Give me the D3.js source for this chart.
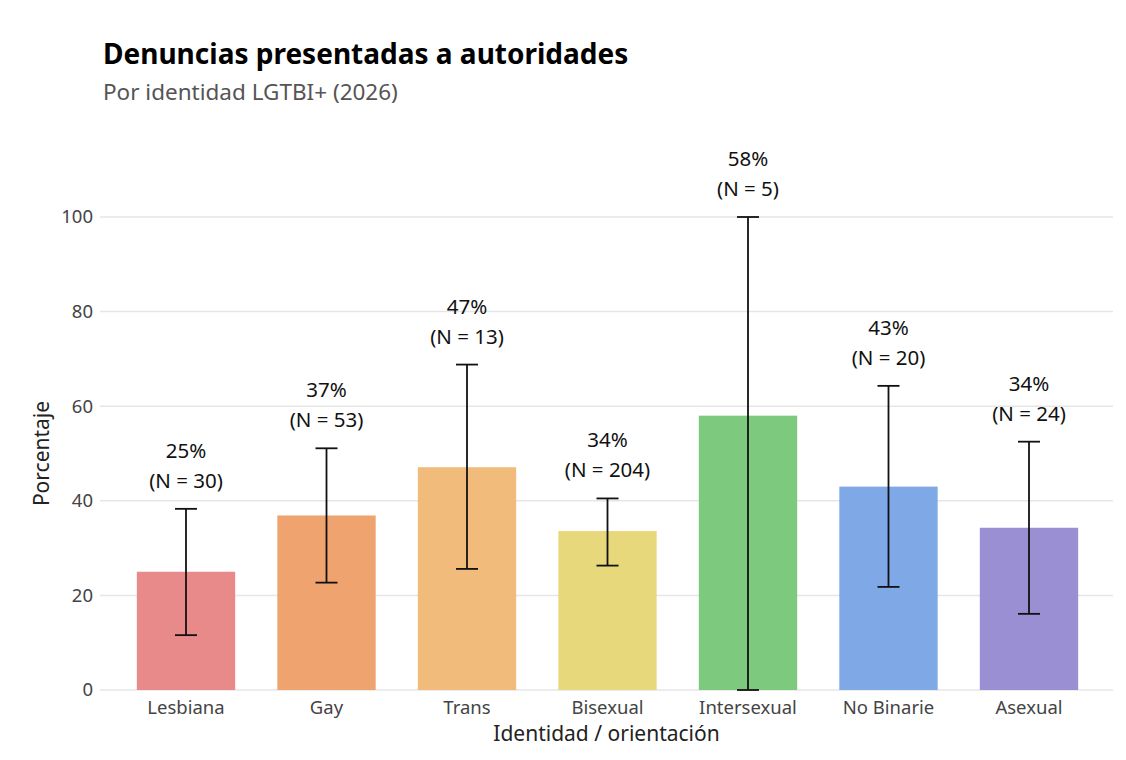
<!DOCTYPE html>
<html>
<head>
<meta charset="utf-8">
<script src="https://cdn.jsdelivr.net/npm/d3@7"></script>
<style>
  html, body { margin: 0; padding: 0; background: #fff; }
  svg { display: block; font-family: "Noto Sans", "Open Sans", sans-serif; }
</style>
</head>
<body>
<svg id="chart" width="1126" height="760"></svg>
<script>
// Report rates by identity, with 95% confidence intervals
const categories = ["Lesbiana", "Gay", "Trans", "Bisexual", "Intersexual", "No Binarie", "Asexual"];
const percents   = [25.0, 36.9, 47.1, 33.6, 58.0, 43.0, 34.3];
const sampleN    = [30, 53, 13, 204, 5, 20, 24];
const ciLow      = [11.6, 22.7, 25.6, 26.3, 0, 21.8, 16.1];
const ciHigh     = [38.3, 51.1, 68.8, 40.5, 100, 64.3, 52.5];
const barColors  = ["#E78A89", "#EFA46F", "#F1BC7B", "#E7D97B", "#7DC97D", "#7EA9E6", "#9B8FD3"];
const yTicks     = [0, 20, 40, 60, 80, 100];

const svg = d3.select("#chart");
const margin = { left: 100, right: 13 };
const W = 1126;

const x = d3.scaleBand()
  .domain(categories)
  .range([margin.left + 1, W - margin.right + 1])
  .paddingInner(0.3)
  .paddingOuter(0.255);

const y = d3.scaleLinear()
  .domain([0, 100])
  .range([690, 217]);

// Horizontal gridlines
svg.append("g")
  .selectAll("line")
  .data(yTicks)
  .join("line")
  .attr("x1", margin.left)
  .attr("x2", W - margin.right)
  .attr("y1", d => y(d))
  .attr("y2", d => y(d))
  .attr("stroke", "#e6e6e6")
  .attr("stroke-width", 1.5);

// Y axis tick labels
const yAxis = svg.append("g")
  .attr("transform", `translate(${margin.left},0)`)
  .call(d3.axisLeft(y).tickValues(yTicks).tickSize(0).tickPadding(7));
yAxis.select(".domain").remove();
yAxis.selectAll("text")
  .attr("font-size", 18.5)
  .attr("fill", "#444")
  .attr("font-family", "Noto Sans, Open Sans, sans-serif");

// X axis category labels
const xAxis = svg.append("g")
  .attr("transform", `translate(0,${y(0)})`)
  .call(d3.axisBottom(x).tickSize(0).tickPadding(11));
xAxis.select(".domain").remove();
xAxis.selectAll("text")
  .attr("font-size", 18.5)
  .attr("fill", "#444")
  .attr("font-family", "Noto Sans, Open Sans, sans-serif");

const rows = categories.map((c, i) => ({
  cat: c, pct: percents[i], n: sampleN[i], lo: ciLow[i], hi: ciHigh[i], color: barColors[i]
}));
const cx = d => x(d.cat) + x.bandwidth() / 2;

// Bars
svg.append("g")
  .selectAll("rect")
  .data(rows)
  .join("rect")
  .attr("x", d => x(d.cat))
  .attr("width", x.bandwidth())
  .attr("y", d => y(d.pct))
  .attr("height", d => y(0) - y(d.pct))
  .attr("fill", d => d.color);

// Error bars
const capHalf = 11;
const eb = svg.append("g")
  .attr("stroke", "#111")
  .attr("stroke-width", 1.8)
  .selectAll("g")
  .data(rows)
  .join("g");
eb.append("line")
  .attr("x1", cx).attr("x2", cx)
  .attr("y1", d => y(d.lo))
  .attr("y2", d => y(d.hi));
eb.append("line")
  .attr("x1", d => cx(d) - capHalf)
  .attr("x2", d => cx(d) + capHalf)
  .attr("y1", d => y(d.hi))
  .attr("y2", d => y(d.hi));
eb.append("line")
  .attr("x1", d => cx(d) - capHalf)
  .attr("x2", d => cx(d) + capHalf)
  .attr("y1", d => y(d.lo))
  .attr("y2", d => y(d.lo));

// Value labels above the upper interval
const lab = svg.append("g")
  .selectAll("text")
  .data(rows)
  .join("text")
  .attr("text-anchor", "middle")
  .attr("font-size", 20.5)
  .attr("fill", "#111");
lab.append("tspan")
  .attr("x", cx)
  .attr("y", d => y(d.hi) - 51)
  .text(d => `${Math.round(d.pct)}%`);
lab.append("tspan")
  .attr("x", cx)
  .attr("y", d => y(d.hi) - 21)
  .text(d => `(N = ${d.n})`);

// Axis titles
svg.append("text")
  .attr("x", (margin.left + W - margin.right) / 2)
  .attr("y", 741)
  .attr("text-anchor", "middle")
  .attr("font-size", 21)
  .attr("fill", "#222")
  .text("Identidad / orientación");

svg.append("text")
  .attr("transform", `translate(49,${(217 + 690) / 2}) rotate(-90)`)
  .attr("text-anchor", "middle")
  .attr("font-size", 21)
  .attr("fill", "#222")
  .text("Porcentaje");

// Title and subtitle
svg.append("text")
  .attr("x", 103)
  .attr("y", 64)
  .attr("font-size", 28)
  .attr("font-weight", "bold")
  .attr("fill", "#000")
  .text("Denuncias presentadas a autoridades");

svg.append("text")
  .attr("x", 103)
  .attr("y", 100)
  .attr("font-size", 22.5)
  .attr("fill", "#555")
  .text("Por identidad LGTBI+ (2026)");
</script>
</body>
</html>
